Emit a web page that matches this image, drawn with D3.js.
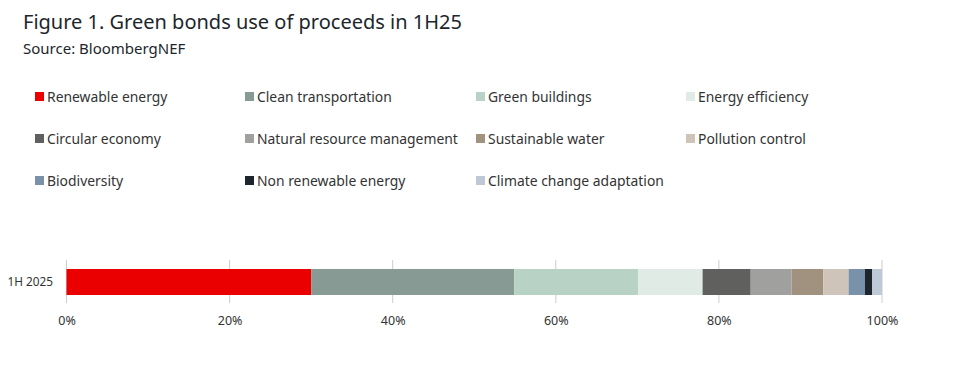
<!DOCTYPE html>
<html>
<head>
<meta charset="utf-8">
<script src="https://cdn.jsdelivr.net/npm/d3@7"></script>
<style>
body{margin:0;background:#fff;font-family:"Noto Sans",sans-serif}
</style>
</head>
<body>
<div id="chart"></div>
<script>
var categories = ["1H 2025"]
var series = ["Renewable energy","Clean transportation","Green buildings","Energy efficiency",
  "Circular economy","Natural resource management","Sustainable water","Pollution control",
  "Biodiversity","Non renewable energy","Climate change adaptation"]
var values = [30.0,24.9,15.2,7.9,5.9,5.0,3.9,3.1,2.0,0.9,1.2]
var colors = ["#eb0000","#879a93","#b8d3c5","#e1ebe6","#60615e","#a0a19f","#a0927f","#cec4b9","#7a91aa","#1c262c","#bec8d6"]
var tickValues = [0,20,40,60,80,100]

var width = 977, height = 370
var svg = d3.select("#chart").append("svg").attr("width",width).attr("height",height)

svg.append("text").text("Figure 1. Green bonds use of proceeds in 1H25")
  .attr("x",23).attr("y",29).attr("font-size",20).attr("fill","#1c262c")
svg.append("text").text("Source: BloombergNEF")
  .attr("x",23).attr("y",54).attr("font-size",15).attr("fill","#1c262c")

// legend, 4 columns
var colX = [35,245,476,686]
var legend = svg.selectAll(".leg").data(series).enter().append("g")
  .attr("transform",function(d,i){return "translate("+colX[i%4]+","+(97+Math.floor(i/4)*42)+")"})
legend.append("rect").attr("x",0).attr("y",-5).attr("width",9).attr("height",9)
  .attr("fill",function(d,i){return colors[i]})
legend.append("text").text(function(d){return d}).attr("x",12).attr("y",5)
  .attr("font-size",13.9).attr("fill","#333")

var x = d3.scaleLinear().domain([0,100]).range([66.5,882])
var y = d3.scaleBand().domain(categories).range([260,304]).paddingInner(0).paddingOuter(0.2)

// gridlines
svg.selectAll(".grid").data(tickValues).enter().append("line")
  .attr("x1",function(d){return x(d)}).attr("x2",function(d){return x(d)})
  .attr("y1",260).attr("y2",303).attr("stroke","#ccc").attr("stroke-width",1)

var stacked = []
var acc = 0
values.forEach(function(v,i){stacked.push({start:acc,end:acc+v,color:colors[i]}); acc+=v})

svg.selectAll(".bars").data(stacked).enter().append("rect")
  .attr("x",function(d){return x(d.start)})
  .attr("width",function(d){return x(d.end)-x(d.start)})
  .attr("y",269).attr("height",26)
  .attr("fill",function(d){return d.color})

var xAxis = d3.axisBottom(x).tickValues(tickValues).tickSize(0).tickFormat(function(d){return d+"%"})
var xG = svg.append("g").attr("transform","translate(0,313)").call(xAxis)
xG.select(".domain").remove()
xG.selectAll("text").attr("font-size",12.5).attr("fill","#333").attr("font-family","Noto Sans")

var yAxis = d3.axisLeft(y).tickSize(0)
var yG = svg.append("g").attr("transform","translate(56,0)").call(yAxis)
yG.select(".domain").remove()
yG.selectAll("text").attr("font-size",11.8).attr("fill","#333").attr("font-family","Noto Sans")
</script>
</body>
</html>
